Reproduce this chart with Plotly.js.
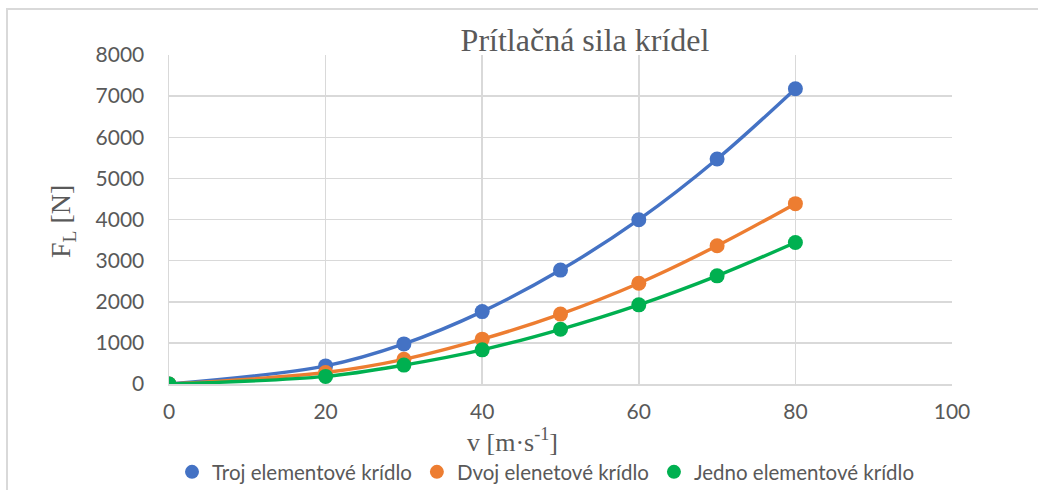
<!DOCTYPE html>
<html>
<head>
<meta charset="utf-8">
<script src="https://cdn.plot.ly/plotly-3.0.1.min.js"></script>
<style>
html,body{margin:0;padding:0;background:#fff;}
#frame{position:absolute;left:6px;top:8px;width:1100px;height:600px;border:2px solid #d9d9d9;box-sizing:border-box;}
#chart{position:absolute;left:0;top:0;width:1038px;height:490px;}
</style>
</head>
<body>
<div id="frame"></div>
<div id="chart"></div>
<script>
const speeds = [0, 20, 30, 40, 50, 60, 70, 80];
const trojValues = [0, 440, 975, 1760, 2770, 3995, 5470, 7180];
const dvojValues = [0, 280, 600, 1090, 1700, 2450, 3360, 4385];
const jednoValues = [0, 185, 460, 830, 1330, 1925, 2630, 3440];
const seriesNames = ["Troj elementové krídlo", "Dvoj elenetové krídlo", "Jedno elementové krídlo"];
const seriesColors = ["#4472C4", "#ED7D31", "#00B050"];
const xTicks = [0, 20, 40, 60, 80, 100];
const yTicks = [0, 1000, 2000, 3000, 4000, 5000, 6000, 7000, 8000];
const chartTitle = "Prítlačná sila krídel";
const xTitle = "v [m·s<sup>-1</sup>]";
const yTitle = "F<sub>L</sub> [N]";

const allValues = [trojValues, dvojValues, jednoValues];
const traces = [];
allValues.forEach((vals, i) => {
  traces.push({
    x: speeds, y: vals, type: 'scatter', mode: 'lines+markers',
    line: {color: seriesColors[i], width: 3.4, shape: 'spline', smoothing: 1},
    marker: {color: seriesColors[i], size: 15},
    showlegend: false, hoverinfo: 'skip'
  });
});
allValues.forEach((vals, i) => {
  traces.push({
    x: [null], y: [null], type: 'scatter', mode: 'markers',
    name: seriesNames[i],
    marker: {color: seriesColors[i], size: 14},
    showlegend: true
  });
});

const tickFont = {family: "Lato, 'Open Sans', sans-serif", size: 21, color: '#595959'};
const legendFont = {family: "Lato, 'Open Sans', sans-serif", size: 20.5, color: '#595959'};
const serif = "'Liberation Serif', 'DejaVu Serif', serif";

const layout = {
  width: 1038, height: 490,
  paper_bgcolor: 'rgba(0,0,0,0)', plot_bgcolor: '#fff',
  margin: {l: 169, r: 86, t: 55, b: 106},
  title: {text: chartTitle, font: {family: serif, size: 32, color: '#595959'},
          x: 585/1038, xref: 'container', xanchor: 'center', y: 1 - 40/490, yref: 'container', yanchor: 'middle'},
  xaxis: {range: [0, 100], tickvals: xTicks, ticktext: xTicks.map(String), showgrid: true,
          gridcolor: '#d9d9d9', gridwidth: 1.5, zeroline: false, showline: true, linecolor: '#d9d9d9', linewidth: 1.5,
          ticks: '', tickfont: tickFont, ticklabelstandoff: 8, fixedrange: true},
  yaxis: {range: [0, 8000], tickvals: yTicks, ticktext: yTicks.map(String), showgrid: true,
          gridcolor: '#d9d9d9', gridwidth: 1.5, zeroline: false, showline: true, linecolor: '#d9d9d9', linewidth: 1.5,
          ticks: '', tickfont: tickFont, ticklabelstandoff: 19, fixedrange: true},
  showlegend: true,
  legend: {orientation: 'h', x: 546/1038, xref: 'container', xanchor: 'center', y: 1 - 472/490, yref: 'container', yanchor: 'middle',
           font: legendFont, itemwidth: 30, tracegroupgap: 0, bgcolor: 'rgba(0,0,0,0)'},
  annotations: [
    {text: xTitle, xref: 'paper', yref: 'paper', x: (512-169)/783, y: -(440-384)/329, xanchor: 'center', yanchor: 'middle',
     showarrow: false, font: {family: serif, size: 26, color: '#595959'}},
    {text: yTitle, xref: 'paper', yref: 'paper', x: -(169-62)/783, y: (384-222)/329, xanchor: 'center', yanchor: 'middle', textangle: -90,
     showarrow: false, font: {family: serif, size: 28, color: '#595959'}}
  ]
};
Plotly.newPlot('chart', traces, layout, {staticPlot: true, displayModeBar: false});
</script>
</body>
</html>
